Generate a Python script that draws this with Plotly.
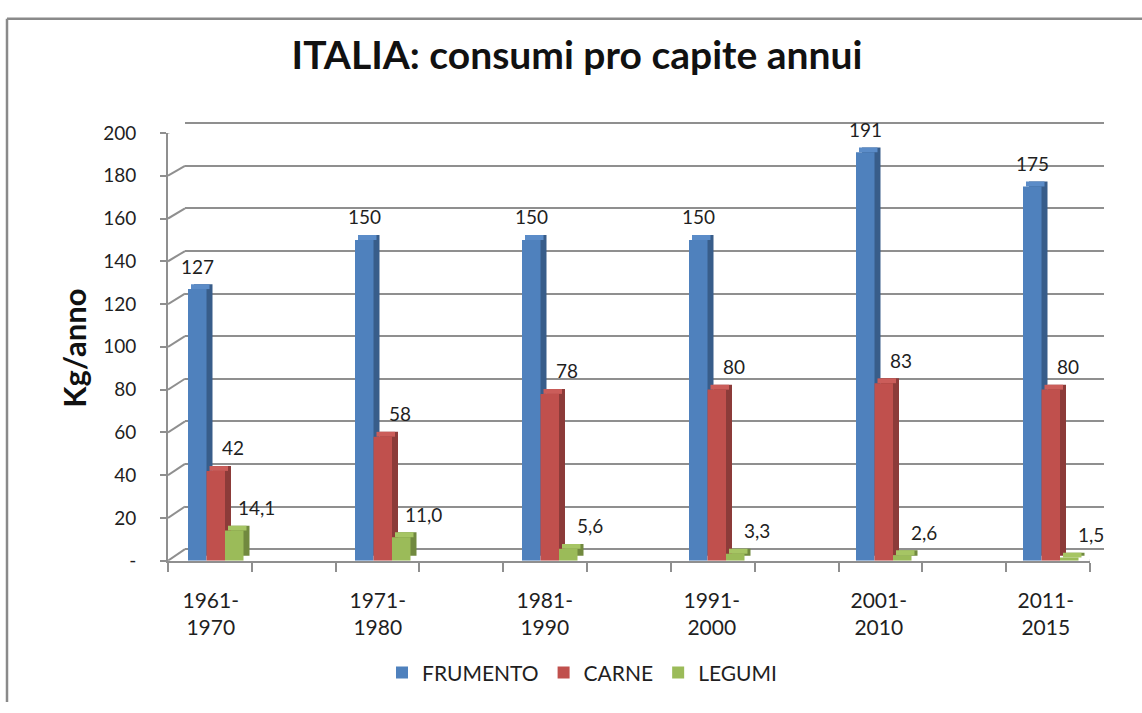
import plotly.graph_objects as go

# ---------------- data ----------------
categories = ["1961-<br>1970", "1971-<br>1980", "1981-<br>1990",
              "1991-<br>2000", "2001-<br>2010", "2011-<br>2015"]
series_names = ["FRUMENTO", "CARNE", "LEGUMI"]
frumento = [127, 150, 150, 150, 191, 175]
carne = [42, 58, 78, 80, 83, 80]
legumi = [14.1, 11.0, 5.6, 3.3, 2.6, 1.5]
series_values = [frumento, carne, legumi]
series_decimals = [0, 0, 1]
y_tickvals = [0, 20, 40, 60, 80, 100, 120, 140, 160, 180, 200]
y_ticktext = ["-", "20", "40", "60", "80", "100", "120", "140", "160", "180", "200"]

# ---------------- styling / geometry ----------------
W, H = 1142, 713
FONT = "Lato"
TXT = "#1f1f1f"
GRID = "#8f8f8f"
front_cols = ["#4F81BD", "#C0504D", "#9BBB59"]
side_cols = ["#385D8A", "#8C3B39", "#71893F"]
top_cols = ["#5B8CC8", "#CB5D5A", "#A6C564"]

# front plane (pixels)
FX0, FX1 = 168, 1090
FY0, FY1 = 567, 125
# back wall (pixels)
BX0, BX1 = 185, 1104
BY0, BY1 = 555, 115
GROUP0, GROUP_STEP = 215.75, 167.0
YMAX = 200.0
PAD = 1.0  # extra range on back wall so the edge gridlines are drawn

XLO = (FX0 - GROUP0) / GROUP_STEP
XHI = (FX1 - GROUP0) / GROUP_STEP
PX_PER_UNIT = (FY0 - FY1) / YMAX
BACK_PX_PER_UNIT = (BY0 - BY1) / YMAX


def fx(px):
    return XLO + (px - FX0) / (FX1 - FX0) * (XHI - XLO)


def fy(py):
    return (FY0 - py) / PX_PER_UNIT


bar_w = 18.5 / GROUP_STEP
depth_x = 6 / GROUP_STEP
depth_y = 5 / PX_PER_UNIT
label_shift_px = [0, 17, 22]
label_lift_px = 23
xs = list(range(len(categories)))

fig = go.Figure()

# invisible trace so the back-wall subplot exists
fig.add_trace(go.Scatter(x=[None], y=[None], xaxis="x", yaxis="y",
                         showlegend=False, hoverinfo="skip"))

for s, (name, vals) in enumerate(zip(series_names, series_values)):
    off = (-1.5 + s) * bar_w
    # side face (depth)
    fig.add_trace(go.Bar(x=xs, y=vals, base=[depth_y] * len(vals),
                         offset=off + depth_x, width=bar_w,
                         marker=dict(color=side_cols[s], line=dict(width=0)),
                         xaxis="x2", yaxis="y2", showlegend=False,
                         hoverinfo="skip"))
    # top face
    fig.add_trace(go.Bar(x=xs, y=[depth_y] * len(vals), base=vals,
                         offset=off + depth_x * 0.5, width=bar_w,
                         marker=dict(color=top_cols[s], line=dict(width=0)),
                         xaxis="x2", yaxis="y2", showlegend=False,
                         hoverinfo="skip"))
    # front face
    fig.add_trace(go.Bar(x=xs, y=vals, name=name, offset=off, width=bar_w,
                         marker=dict(color=front_cols[s], line=dict(width=0)),
                         xaxis="x2", yaxis="y2"))

annotations = []
for s, vals in enumerate(series_values):
    off = (-1.5 + s) * bar_w
    d = series_decimals[s]
    for x, v in zip(xs, vals):
        annotations.append(dict(
            x=x + off + bar_w / 2, y=v,
            xshift=label_shift_px[s], yshift=label_lift_px,
            xref="x2", yref="y2", showarrow=False,
            text=(f"{v:.{d}f}").replace(".", ","),
            xanchor="center", yanchor="middle",
            font=dict(family=FONT, size=19, color=TXT)))

annotations.append(dict(text="Kg/anno", x=74 / W, y=1 - 347 / H,
                        xref="paper", yref="paper", showarrow=False,
                        textangle=-90, xanchor="center", yanchor="middle",
                        font=dict(family=FONT, size=31, weight="bold",
                                  color="#111")))

shapes = []
# connectors from front ticks to back wall gridlines
for v in y_tickvals:
    by = BY0 - v * BACK_PX_PER_UNIT
    shapes.append(dict(type="line", xref="x2", yref="y2",
                       x0=XLO, y0=v, x1=fx(BX0), y1=fy(by),
                       line=dict(color=GRID, width=2), layer="below"))
# right floor edge
shapes.append(dict(type="line", xref="x2", yref="y2",
                   x0=XHI, y0=0, x1=fx(BX1), y1=fy(BY0),
                   line=dict(color=GRID, width=2), layer="below"))
# outer frame (top and left)
shapes.append(dict(type="line", xref="paper", yref="paper",
                   x0=7 / W, y0=1 - 7 / H, x1=1, y1=1 - 7 / H,
                   line=dict(color="#8a8a8a", width=2.5)))
shapes.append(dict(type="line", xref="paper", yref="paper",
                   x0=7 / W, y0=1 - 7 / H, x1=7 / W, y1=0,
                   line=dict(color="#8a8a8a", width=2.5)))

minor_ticks = [XLO + k * (XHI - XLO) / 11 for k in range(12)]

back_top_px = BY1 - PAD * BACK_PX_PER_UNIT
back_bot_px = BY0 + PAD * BACK_PX_PER_UNIT

fig.update_layout(
    width=W, height=H,
    margin=dict(l=0, r=0, t=0, b=0),
    paper_bgcolor="white", plot_bgcolor="rgba(0,0,0,0)",
    barmode="overlay",
    font=dict(family=FONT, color=TXT),
    title=dict(text="ITALIA: consumi pro capite annui",
               font=dict(family=FONT, size=39, weight="bold", color="#111"),
               x=577 / W, xanchor="center", y=1 - 55 / H, yanchor="middle"),
    xaxis=dict(domain=[BX0 / W, BX1 / W], range=[0, 1], visible=False,
               anchor="y"),
    yaxis=dict(domain=[1 - back_bot_px / H, 1 - back_top_px / H],
               range=[-PAD, YMAX + PAD],
               anchor="x", tickmode="array", tickvals=y_tickvals,
               showgrid=True, gridcolor=GRID, gridwidth=2,
               showticklabels=False, ticks="", showline=False, zeroline=False),
    xaxis2=dict(domain=[FX0 / W, FX1 / W], range=[XLO, XHI], anchor="y2",
                tickmode="array",
                tickvals=[x - 5 / GROUP_STEP for x in xs], ticktext=categories,
                ticks="", showgrid=False, zeroline=False,
                showline=True, linecolor=GRID, linewidth=2,
                tickfont=dict(family=FONT, size=21, color=TXT),
                ticklabelstandoff=20,
                minor=dict(tickmode="array", tickvals=minor_ticks,
                           ticks="outside", ticklen=9, tickcolor=GRID,
                           tickwidth=2, showgrid=False)),
    yaxis2=dict(domain=[1 - FY0 / H, 1 - FY1 / H], range=[0, YMAX],
                anchor="x2", tickmode="array", tickvals=y_tickvals,
                ticktext=y_ticktext, ticks="outside", ticklen=6,
                tickcolor=GRID, tickwidth=2, showgrid=False, zeroline=False,
                showline=True, linecolor=GRID, linewidth=2,
                tickfont=dict(family=FONT, size=19, color=TXT),
                ticklabelstandoff=20),
    legend=dict(orientation="h", x=582 / W, xanchor="center",
                y=1 - 683 / H, yanchor="middle",
                font=dict(family=FONT, size=21, color=TXT),
                itemclick=False, itemdoubleclick=False),
    shapes=shapes,
    annotations=annotations,
)

post = ("document.body.style.margin='0px';"
        "document.body.style.overflow='hidden';"
        "var d=document.getElementById('{plot_id}');"
        "if(d){var p=d.parentElement;"
        "if(p){p.style.position='absolute';p.style.left='0px';p.style.top='0px';"
        "p.style.margin='0px';p.style.padding='0px';}}")

fig.write_html("out.html", post_script=post,
               config={"displayModeBar": False})
